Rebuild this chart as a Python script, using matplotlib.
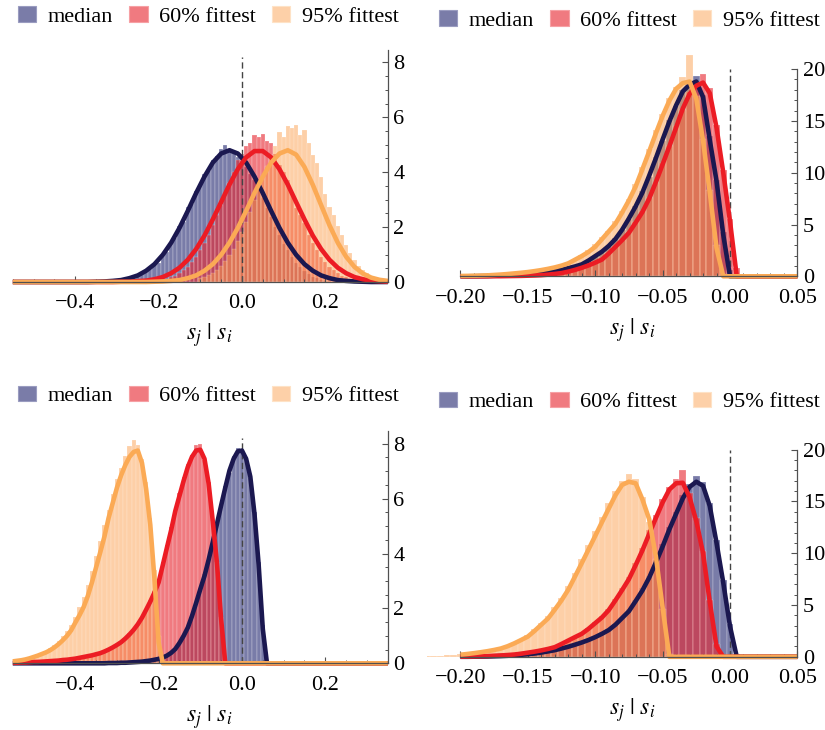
import numpy as np
import matplotlib
matplotlib.use("Agg")
import matplotlib.pyplot as plt
from matplotlib.patches import Patch
from matplotlib.ticker import FixedLocator

plt.rcParams['font.family'] = 'serif'
plt.rcParams['font.serif'] = ['Liberation Serif', 'Times New Roman', 'DejaVu Serif']
plt.rcParams['mathtext.fontset'] = 'stix'
plt.rcParams['axes.unicode_minus'] = True

series_labels = ['median', '60% fittest', '95% fittest']
x_label = r'$s_j\ |\ s_i$'

# ---------------- Panel A (top-left) ----------------
a_hist_width = 0.01
a_hist_start_median = -0.30
a_hist_median = [0.03,0.05,0.06,0.10,0.15,0.22,0.28,0.38,0.47,0.62,0.70,0.95,1.10,1.45,1.62,2.05,2.20,2.75,2.85,3.30,
                 3.50,3.95,4.05,4.45,4.60,4.85,5.00,4.80,4.70,4.55,4.40,4.20,3.95,3.70,3.35,3.05,2.70,2.35,2.00,1.70,
                 1.40,1.15,0.90,0.70,0.55,0.40,0.30,0.20,0.14,0.09,0.05]
a_hist_start_fit60 = -0.20
a_hist_fit60 = [0.06,0.08,0.12,0.17,0.23,0.32,0.42,0.55,0.72,0.91,1.15,1.42,1.72,2.06,2.43,2.81,3.21,3.61,4.00,4.45,
                4.68,4.94,5.05,5.36,5.30,5.40,5.14,5.05,4.68,4.25,4.00,3.70,3.21,2.70,2.43,2.15,1.72,1.42,1.15,0.91,
                0.72,0.55,0.42,0.32,0.23,0.17,0.12,0.08,0.06,0.04]
a_hist_start_fit95 = -0.10
a_hist_fit95 = [0.13,0.18,0.25,0.33,0.45,0.59,0.76,0.97,1.21,1.50,1.82,2.18,2.56,2.97,3.40,3.82,4.23,4.61,4.94,5.45,
                5.30,5.70,5.60,5.72,5.35,5.55,5.05,4.61,4.35,3.82,3.20,2.75,2.45,2.05,1.70,1.35,1.05,0.80,0.60,0.45,
                0.32,0.22,0.15,0.10,0.06]
a_curve_start, a_curve_step = -0.55, 0.02
a_curve_median = [0,0,0,0,0,0,0,0,0,0,0.01,0.02,0.04,0.07,0.14,0.24,0.41,0.65,0.99,1.43,
                  1.97,2.59,3.24,3.84,4.35,4.68,4.80,4.68,4.35,3.84,3.24,2.59,1.97,1.43,0.99,0.65,0.41,0.24,0.14,0.07,
                  0.04,0.02,0.01,0,0,0]
a_curve_fit60 = [0,0,0,0,0,0,0,0,0,0,0,0,0.00,0.01,0.01,0.03,0.05,0.10,0.18,0.32,
                 0.52,0.81,1.20,1.69,2.28,2.91,3.55,4.11,4.54,4.77,4.77,4.54,4.11,3.55,2.91,2.28,1.69,1.20,0.81,0.52,
                 0.32,0.18,0.10,0.05,0.03,0.01]
a_curve_fit95 = [0,0,0,0,0,0,0,0,0,0,0,0,0,0,0,0.00,0.00,0.01,0.02,0.04,
                 0.07,0.14,0.24,0.41,0.65,0.99,1.43,1.97,2.59,3.24,3.84,4.35,4.68,4.80,4.64,4.19,3.54,2.80,2.07,1.43,
                 0.92,0.55,0.31,0.16,0.08,0.04]

# ---------------- Panel B (top-right) ----------------
b_hist_width = 0.005
b_hist_start_median = -0.200
b_hist_median = [0.00,0.01,0.01,0.02,0.03,0.05,0.07,0.10,0.13,0.17,0.22,0.27,0.33,0.42,0.52,0.65,0.80,0.98,1.20,1.55,
                 1.90,2.45,2.95,3.65,4.50,5.50,6.80,8.20,9.60,11.50,13.10,15.10,16.40,18.00,18.70,19.30,17.50,13.50,9.30,4.30,
                 0.60]
b_hist_start_fit60 = -0.225
b_hist_fit60 = [0.04,0.00,0.04,0.00,0.04,
                0.00,0.00,0.00,0.00,0.01,0.01,0.02,0.02,0.03,0.05,0.06,0.09,0.12,0.17,0.24,0.33,0.46,0.64,0.85,1.08,
                1.35,1.70,2.25,2.90,3.55,4.30,5.25,6.30,7.60,9.00,10.90,12.60,14.50,16.10,17.80,18.50,19.50,18.20,14.60,10.30,
                5.50,0.80]
b_hist_start_fit95 = -0.200
b_hist_fit95 = [0.04,0.05,0.06,0.08,0.10,0.14,0.18,0.23,0.30,0.36,0.44,0.52,0.63,0.76,0.90,1.10,1.30,1.70,2.05,2.50,
                3.10,3.75,4.40,5.30,6.30,7.50,8.90,10.60,12.30,14.10,15.70,17.20,18.30,19.20,21.40,17.40,13.30,8.30,3.00,0.20]
b_curve_start, b_curve_step = -0.200, 0.005
b_curve_median = [0.00,0.00,0.01,0.02,0.03,0.05,0.07,0.10,0.13,0.17,0.21,0.26,0.32,0.40,0.50,0.63,0.78,0.95,1.15,1.52,
                  1.95,2.38,2.93,3.60,4.50,5.58,6.75,8.08,9.70,11.40,13.20,14.94,16.50,17.85,18.50,18.80,17.30,13.15,9.20,4.00,
                  0.00,0,0,0,0,0,0,0,0,0,0]
b_curve_fit60 = [0.00,0.00,0.00,0.00,0.00,0.01,0.01,0.02,0.03,0.04,0.06,0.08,0.11,0.16,0.23,0.31,0.45,0.62,0.82,1.05,
                 1.32,1.62,2.20,2.85,3.50,4.20,5.18,6.20,7.49,9.10,10.80,12.55,14.36,16.20,17.60,18.40,18.70,17.67,14.35,10.00,
                 5.30,0.00,0,0,0,0,0,0,0,0,0]
b_curve_fit95 = [0.03,0.04,0.05,0.07,0.09,0.13,0.17,0.22,0.28,0.34,0.41,0.50,0.60,0.72,0.86,1.03,1.25,1.60,1.95,2.35,
                 2.85,3.58,4.33,5.08,6.16,7.33,8.67,10.33,12.04,13.80,15.48,16.95,18.10,18.65,18.80,17.15,13.10,8.10,2.74,0.00,
                 0,0,0,0,0,0,0,0,0,0,0]

# ---------------- Panel C (bottom-left) ----------------
c_hist_width = 0.01
c_hist_start_median = -0.30
c_hist_median = [0.02,0.02,0.03,0.04,0.05,0.06,0.07,0.09,0.11,0.14,0.18,0.22,0.30,0.40,0.55,0.72,1.02,1.35,1.70,2.25,
                 2.65,3.25,3.80,4.35,5.15,5.70,6.45,6.95,7.55,7.85,7.70,7.50,6.75,5.50,3.70,1.40]
c_hist_start_fit60 = -0.50
c_hist_fit60 = [0.03,0.04,0.05,0.05,0.06,0.07,0.08,0.10,0.11,0.13,0.15,0.18,0.21,0.24,0.28,0.32,0.36,0.42,0.50,0.57,
                0.68,0.80,0.92,1.10,1.25,1.45,1.62,1.98,2.30,2.65,3.05,3.70,4.30,4.95,5.50,6.20,6.80,7.25,7.60,7.95,
                8.00,7.40,6.60,5.20,3.70,1.70]
c_hist_start_fit95 = -0.55
c_hist_fit95 = [0.08,0.10,0.13,0.16,0.20,0.25,0.31,0.37,0.45,0.55,0.66,0.80,0.98,1.18,1.40,1.70,2.05,2.40,2.85,3.35,
                3.90,4.45,5.05,5.60,6.15,6.70,7.10,7.55,7.90,8.15,7.95,7.45,6.60,5.30,3.40,1.00]
c_curve_start, c_curve_step = -0.55, 0.01
c_curve_median = [0.0] * 21 + [0.00,0.00,0.01,0.01,0.01,0.02,0.02,0.03,0.04,0.05,0.06,0.08,0.10,0.13,0.16,0.21,0.28,0.38,0.52,0.74,
                               1.00,1.30,1.72,2.20,2.70,3.18,3.77,4.42,5.08,5.75,6.40,7.02,7.45,7.72,7.75,7.45,6.80,5.45,3.60,1.25] + [0.0] * 30
c_curve_fit60 = [0.02,0.02,0.03,0.03,0.04,0.05,0.05,0.06,0.07,0.08,0.09,0.10,0.12,0.13,0.15,0.17,0.20,0.23,0.26,0.29,
                 0.33,0.37,0.43,0.50,0.58,0.67,0.77,0.90,1.05,1.22,1.42,1.66,1.95,2.25,2.58,2.95,3.58,4.22,4.85,5.55,
                 6.10,6.65,7.15,7.52,7.75,7.78,7.45,6.55,5.17,3.65,1.60] + [0.0] * 40
c_curve_fit95 = [0.07,0.09,0.11,0.14,0.18,0.23,0.28,0.34,0.40,0.48,0.58,0.70,0.84,1.00,1.20,1.48,1.75,2.05,2.45,2.95,
                 3.50,4.05,4.62,5.30,5.85,6.40,6.85,7.22,7.52,7.70,7.75,7.30,6.35,5.04,3.07,0.76] + [0.0] * 55

# ---------------- Panel D (bottom-right) ----------------
d_hist_width = 0.005
d_hist_start_median = -0.200
d_hist_median = [0.00,0.01,0.01,0.02,0.04,0.05,0.08,0.11,0.15,0.20,0.26,0.34,0.43,0.55,0.68,0.84,1.00,1.22,1.45,1.70,
                 2.00,2.35,2.70,3.20,3.85,4.60,5.50,6.60,7.80,9.30,10.90,12.50,14.00,15.60,16.70,17.50,16.90,14.80,11.30,7.40,
                 3.20,0.30]
d_hist_start_fit60 = -0.200
d_hist_fit60 = [0.02,0.03,0.04,0.06,0.08,0.11,0.14,0.18,0.24,0.32,0.42,0.53,0.66,0.80,0.98,1.30,1.62,1.95,2.30,2.80,
                3.35,3.90,4.65,5.60,6.60,7.70,9.10,10.50,12.20,13.70,15.20,16.40,17.20,18.00,15.80,13.40,10.20,5.50,1.20]
d_hist_start_fit95 = -0.225
d_hist_fit95 = [0.05,0.08,0.10,0.14,0.18,0.24,0.30,0.38,0.47,0.58,0.70,0.85,1.08,1.38,1.72,2.10,2.65,3.30,3.90,4.80,
                5.70,6.80,8.10,9.40,10.80,12.10,13.50,14.80,16.00,17.00,17.60,17.20,15.40,13.00,9.40,4.60,0.30]
d_curve_start, d_curve_step = -0.200, 0.005
d_curve_median = [0.00,0.00,0.01,0.02,0.03,0.05,0.07,0.10,0.14,0.19,0.25,0.32,0.41,0.52,0.64,0.80,0.97,1.17,1.38,1.62,
                  1.90,2.22,2.58,3.10,3.75,4.40,5.38,6.40,7.63,9.10,10.64,12.30,13.80,15.30,16.40,16.90,16.50,14.55,11.00,7.15,
                  2.94,0.00,0,0,0,0,0,0,0,0,0]
d_curve_fit60 = [0.01,0.02,0.03,0.05,0.07,0.10,0.13,0.17,0.22,0.30,0.40,0.50,0.62,0.76,0.93,1.24,1.57,1.90,2.22,2.70,
                 3.25,3.80,4.50,5.45,6.45,7.50,8.85,10.27,11.85,13.40,14.90,16.15,16.75,16.80,15.40,13.10,10.00,5.30,1.00,0.00,
                 0,0,0,0,0,0,0,0,0,0,0]
d_curve_fit95 = [0.20,0.27,0.35,0.44,0.54,0.66,0.80,1.02,1.30,1.62,1.95,2.50,3.10,3.70,4.55,5.45,6.48,7.75,9.04,10.35,
                 11.67,13.00,14.30,15.60,16.60,16.90,16.75,15.20,13.30,9.70,4.76,0.00] + [0.0] * 19

# ---------------- axes / ticks ----------------
left_xlim = (-0.55, 0.35)
left_ylim = (0, 8.47)
left_xticks = [-0.4, -0.2, 0.0, 0.2]
left_xticklabels = ['\u22120.4', '\u22120.2', '0.0', '0.2']
left_yticks = [0, 2, 4, 6, 8]
right_xlim = (-0.2245, 0.05)
right_ylim = (0, 21.5)
right_xticks = [-0.20, -0.15, -0.10, -0.05, 0.00, 0.05]
right_xticklabels = ['\u22120.20', '\u22120.15', '\u22120.10', '\u22120.05', '0.00', '0.05']
right_yticks = [0, 5, 10, 15, 20]

hist_colors = ['#414483', '#e72832', '#fca050']
hist_alphas = [0.70, 0.62, 0.50]
line_colors = ['#1b1850', '#ec1c24', '#fbaa55']
legend_colors = ['#7a7ca8', '#f07a80', '#fdd0a8']
legend_edges = ['#9a9cc0', '#f6a0a4', '#fee2c6']
axis_color = '#505050'

fig = plt.figure(figsize=(8.25, 7.3), dpi=100)

W, H = 825.0, 730.0
ax_a = fig.add_axes([12.8 / W, (H - 282) / H, 375 / W, 232.5 / H])
ax_c = fig.add_axes([12.8 / W, (H - 663.3) / H, 375 / W, 232.5 / H])
ax_b = fig.add_axes([427.4 / W, (H - 276.3) / H, 370 / W, 222.7 / H])
ax_d = fig.add_axes([427.4 / W, (H - 656.8) / H, 370 / W, 222.7 / H])


def draw_panel(ax, hists, hist_width, curves, curve_start, curve_step, side, dash_top):
    for (start, vals), col, al in zip(hists, hist_colors, hist_alphas):
        centers = start + hist_width * np.arange(len(vals))
        ax.bar(centers, vals, width=hist_width, color=col, alpha=al,
               linewidth=0.25, edgecolor=(1, 1, 1, 0.5), zorder=1)
    ax.vlines(0.0, 0.0, dash_top, colors='#444444', linewidth=1.0,
              linestyles=(0, (4.5, 2.5)), zorder=1.5)
    for vals, col in zip(curves, line_colors):
        xs = curve_start + curve_step * np.arange(len(vals))
        ax.plot(xs, vals, color=col, linewidth=3.3, solid_capstyle='butt',
                solid_joinstyle='round', zorder=2, clip_on=False)

    for s in ['top', 'left']:
        ax.spines[s].set_visible(False)
    for s in ['bottom', 'right']:
        ax.spines[s].set_color(axis_color)
        ax.spines[s].set_linewidth(0.9)
        ax.spines[s].set_zorder(3)
    ax.yaxis.tick_right()
    if side == 'left':
        ax.set_xlim(*left_xlim)
        ax.set_ylim(*left_ylim)
        ax.set_xticks(left_xticks)
        ax.set_xticklabels(left_xticklabels)
        ax.set_yticks(left_yticks)
        ax.xaxis.set_minor_locator(FixedLocator(np.arange(-0.55, 0.351, 0.05)))
        ax.yaxis.set_minor_locator(FixedLocator(np.arange(0, 8.01, 0.5)))
    else:
        ax.set_xlim(*right_xlim)
        ax.set_ylim(*right_ylim)
        ax.set_xticks(right_xticks)
        ax.set_xticklabels(right_xticklabels)
        ax.set_yticks(right_yticks)
        ax.xaxis.set_minor_locator(FixedLocator(np.arange(-0.20, 0.0501, 0.01)))
        ax.yaxis.set_minor_locator(FixedLocator(np.arange(0, 20.01, 1.0)))
        ax.spines['bottom'].set_bounds(-0.20, 0.05)
        ax.spines['right'].set_bounds(0, 20)
    ax.tick_params(axis='both', which='major', direction='in', length=4.0, width=0.8,
                   color=axis_color, labelsize=16, labelcolor='black')
    ax.tick_params(axis='both', which='minor', direction='in', length=2.2, width=0.7,
                   color=axis_color)
    ax.tick_params(axis='x', which='both', top=False, bottom=True, pad=9)
    ax.tick_params(axis='y', which='both', left=False, right=True, labelleft=False,
                   labelright=True, pad=4)
    ax.patch.set_alpha(0)


draw_panel(ax_a,
           [(a_hist_start_median, a_hist_median), (a_hist_start_fit60, a_hist_fit60),
            (a_hist_start_fit95, a_hist_fit95)], a_hist_width,
           [a_curve_median, a_curve_fit60, a_curve_fit95], a_curve_start, a_curve_step,
           'left', 8.2)
draw_panel(ax_b,
           [(b_hist_start_median, b_hist_median), (b_hist_start_fit60, b_hist_fit60),
            (b_hist_start_fit95, b_hist_fit95)], b_hist_width,
           [b_curve_median, b_curve_fit60, b_curve_fit95], b_curve_start, b_curve_step,
           'right', 20.0)
draw_panel(ax_c,
           [(c_hist_start_median, c_hist_median), (c_hist_start_fit60, c_hist_fit60),
            (c_hist_start_fit95, c_hist_fit95)], c_hist_width,
           [c_curve_median, c_curve_fit60, c_curve_fit95], c_curve_start, c_curve_step,
           'left', 8.2)
draw_panel(ax_d,
           [(d_hist_start_median, d_hist_median), (d_hist_start_fit60, d_hist_fit60),
            (d_hist_start_fit95, d_hist_fit95)], d_hist_width,
           [d_curve_median, d_curve_fit60, d_curve_fit95], d_curve_start, d_curve_step,
           'right', 20.0)

# x labels
ax_a.text(0.523, -58 / 232.5, x_label, transform=ax_a.transAxes, ha='center', va='baseline', fontsize=17)
ax_c.text(0.523, -58 / 232.5, x_label, transform=ax_c.transAxes, ha='center', va='baseline', fontsize=17)
ax_b.text(0.553, -58 / 222.7, x_label, transform=ax_b.transAxes, ha='center', va='baseline', fontsize=17)
ax_d.text(0.553, -58 / 222.7, x_label, transform=ax_d.transAxes, ha='center', va='baseline', fontsize=17)

# legends
legend_anchors = [(18 / W, 1 - 16.2 / H), (439 / W, 1 - 20.5 / H),
                  (18 / W, 1 - 396 / H), (439 / W, 1 - 402 / H)]
for anchor in legend_anchors:
    handles = [Patch(facecolor=c, edgecolor=e, linewidth=0.8)
               for c, e in zip(legend_colors, legend_edges)]
    fig.legend(handles, series_labels, loc='center left', bbox_to_anchor=anchor,
               bbox_transform=fig.transFigure, ncol=3, frameon=False, fontsize=16,
               handlelength=0.82, handleheight=0.71, handletextpad=0.53,
               columnspacing=0.72, borderpad=0, borderaxespad=0)

fig.savefig('out.png', dpi=100)
